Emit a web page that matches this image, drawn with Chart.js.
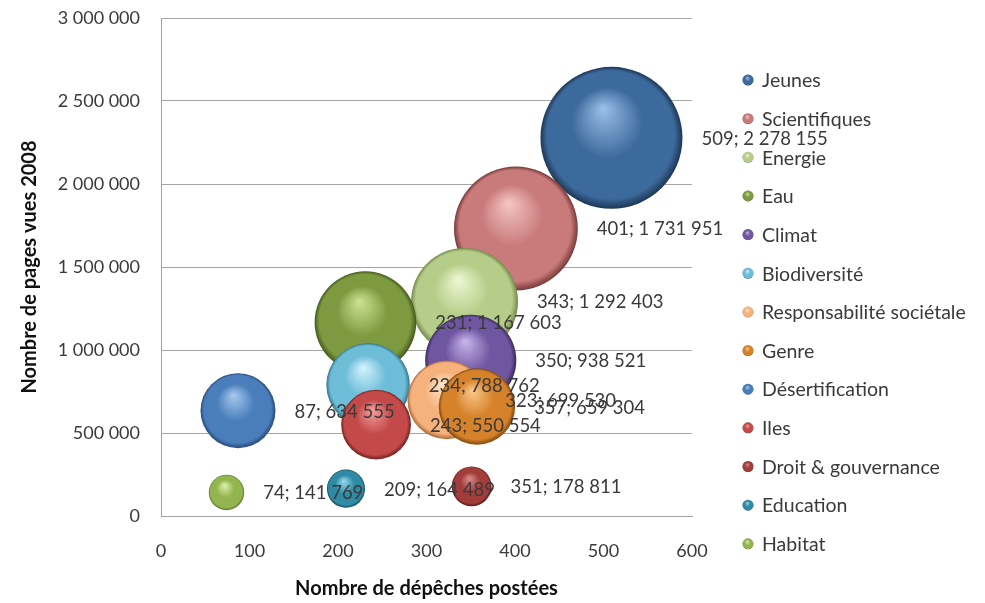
<!DOCTYPE html>
<html>
<head>
<meta charset="utf-8">
<script src="https://cdn.jsdelivr.net/npm/chart.js@4.4.1/dist/chart.umd.min.js"></script>
<style>
  html, body { margin: 0; padding: 0; background: #ffffff; }
  #wrap { width: 985px; height: 603px; position: relative; }
</style>
</head>
<body>
<div id="wrap"><canvas id="c"></canvas></div>
<script>
// ---- Data ----
const seriesNames = ['Jeunes', 'Scientifiques', 'Energie', 'Eau', 'Climat', 'Biodiversité',
  'Responsabilité sociétale', 'Genre', 'Désertification', 'Iles', 'Droit & gouvernance',
  'Education', 'Habitat'];
const depeches = [509, 401, 343, 231, 350, 234, 323, 357, 87, 243, 351, 209, 74];
const pagesVues = [2278155, 1731951, 1292403, 1167603, 938521, 788762, 699530, 659304,
  634555, 550554, 178811, 164489, 141769];
const bubbleSizes = pagesVues.slice(); // bubble size = pages vues
const xTicks = [0, 100, 200, 300, 400, 500, 600];
const yTicks = [0, 500000, 1000000, 1500000, 2000000, 2500000, 3000000];

// ---- Styles ----
const palette = [
  { hi: '#9cc0ea', base: '#3d6a9c', edge: '#1c3756' },
  { hi: '#f6c6c6', base: '#c97a7a', edge: '#783a3a' },
  { hi: '#eef8d4', base: '#b5cd88', edge: '#74894a' },
  { hi: '#cde494', base: '#7d9a40', edge: '#45591c' },
  { hi: '#c8b6ec', base: '#6f56a0', edge: '#3a2a5c' },
  { hi: '#d4f4ff', base: '#6dbcd8', edge: '#357488' },
  { hi: '#ffe6cc', base: '#f6b27c', edge: '#ab6a38' },
  { hi: '#fbc98c', base: '#d6822a', edge: '#82480c' },
  { hi: '#a8caf0', base: '#4a7ebb', edge: '#26497a' },
  { hi: '#f4a0a0', base: '#c34a48', edge: '#74201f' },
  { hi: '#dc8c8a', base: '#a23d3b', edge: '#561919' },
  { hi: '#9adcf0', base: '#2f8aa5', edge: '#134858' },
  { hi: '#dcf2aa', base: '#93b550', edge: '#55732a' }
];
const MAX_R = 71;
const maxSize = Math.max(...bubbleSizes);
const textColor = '#3a3a3a';
const FONT = 'Lato, "Open Sans", sans-serif';

function sphereGradient(ctx2d, cx, cy, r, p) {
  const g = ctx2d.createRadialGradient(cx - 0.12 * r, cy - 0.42 * r, 0, cx, cy, r);
  g.addColorStop(0, p.hi);
  g.addColorStop(0.5, p.base);
  g.addColorStop(0.9, p.base);
  g.addColorStop(1, p.edge);
  return g;
}

function fmt(n) {
  return String(n).replace(/\B(?=(\d{3})+(?!\d))/g, ' ');
}

const datasets = seriesNames.map((name, i) => ({
  label: name,
  data: [{ x: depeches[i], y: pagesVues[i], r: MAX_R * Math.sqrt(bubbleSizes[i] / maxSize) }],
  order: seriesNames.length - i,
  borderWidth: 0,
  backgroundColor: (ctx) => {
    const p = palette[i];
    if (ctx.type !== 'data') return p.base;
    const chart = ctx.chart;
    const xs = chart.scales.x, ys = chart.scales.y;
    if (!xs || !ys) return p.base;
    const cx = xs.getPixelForValue(ctx.raw.x);
    const cy = ys.getPixelForValue(ctx.raw.y);
    const r = ctx.raw.r;
    if (!isFinite(cx) || !isFinite(cy)) return p.base;
    return sphereGradient(chart.ctx, cx, cy, r, p);
  }
}));

const labelPlugin = {
  id: 'bubbleLabels',
  afterDatasetsDraw(chart) {
    const c = chart.ctx;
    c.save();
    c.font = '18.5px ' + FONT;
    c.fillStyle = textColor;
    c.textBaseline = 'middle';
    c.textAlign = 'left';
    chart.data.datasets.forEach((ds, i) => {
      const meta = chart.getDatasetMeta(i);
      const el = meta.data[0];
      const d = ds.data[0];
      c.fillText(d.x + '; ' + fmt(d.y), el.x + d.r + 19, el.y + 1);
    });
    c.restore();
  }
};

const legendPlugin = {
  id: 'sideLegend',
  afterDraw(chart) {
    const c = chart.ctx;
    const left = chart.chartArea.right + 56;
    const top = 80, step = 38.65;
    c.save();
    c.font = '19.5px ' + FONT;
    c.textBaseline = 'middle';
    c.textAlign = 'left';
    chart.data.datasets.forEach((ds, i) => {
      const y = top + i * step;
      const p = palette[i];
      c.beginPath();
      c.arc(left, y, 5.5, 0, Math.PI * 2);
      c.fillStyle = sphereGradient(c, left, y, 5.5, p);
      c.fill();
      c.fillStyle = textColor;
      c.fillText(ds.label, left + 14, y + 1);
    });
    c.restore();
  }
};

new Chart(document.getElementById('c'), {
  type: 'bubble',
  data: { datasets },
  plugins: [labelPlugin, legendPlugin],
  options: {
    responsive: true,
    maintainAspectRatio: false,
    animation: false,
    events: [],
    layout: { autoPadding: false, padding: { left: 0, right: 293, top: 18, bottom: 0 } },
    plugins: {
      legend: { display: false },
      tooltip: { enabled: false }
    },
    scales: {
      x: {
        type: 'linear',
        min: xTicks[0],
        max: xTicks[xTicks.length - 1],
        afterBuildTicks: (s) => { s.ticks = xTicks.map(v => ({ value: v })); },
        afterFit: (s) => { s.height = 87; },
        grid: { display: false, drawTicks: false },
        border: { display: true, color: '#a0a0a0', width: 1 },
        ticks: { color: textColor, padding: 24, font: { size: 18, family: FONT } },
        title: {
          display: true,
          text: 'Nombre de dépêches postées',
          color: '#111',
          font: { size: 20, weight: 'bold', family: FONT },
          padding: { top: 0, bottom: 2 }
        }
      },
      y: {
        type: 'linear',
        min: yTicks[0],
        max: yTicks[yTicks.length - 1],
        afterBuildTicks: (s) => { s.ticks = yTicks.map(v => ({ value: v })); },
        afterFit: (s) => { s.width = 161; },
        grid: {
          display: true, drawTicks: true, tickLength: 21, tickColor: 'rgba(0,0,0,0)',
          color: '#a6a6a6', lineWidth: 1
        },
        border: { display: true, color: '#a0a0a0', width: 1 },
        ticks: {
          color: textColor, padding: 0, font: { size: 18, family: FONT },
          callback: (v) => fmt(v)
        },
        title: {
          display: true,
          text: 'Nombre de pages vues 2008',
          color: '#111',
          font: { size: 20, weight: 'bold', family: FONT },
          padding: { top: 18, bottom: 0 }
        }
      }
    }
  }
});
</script>
</body>
</html>
